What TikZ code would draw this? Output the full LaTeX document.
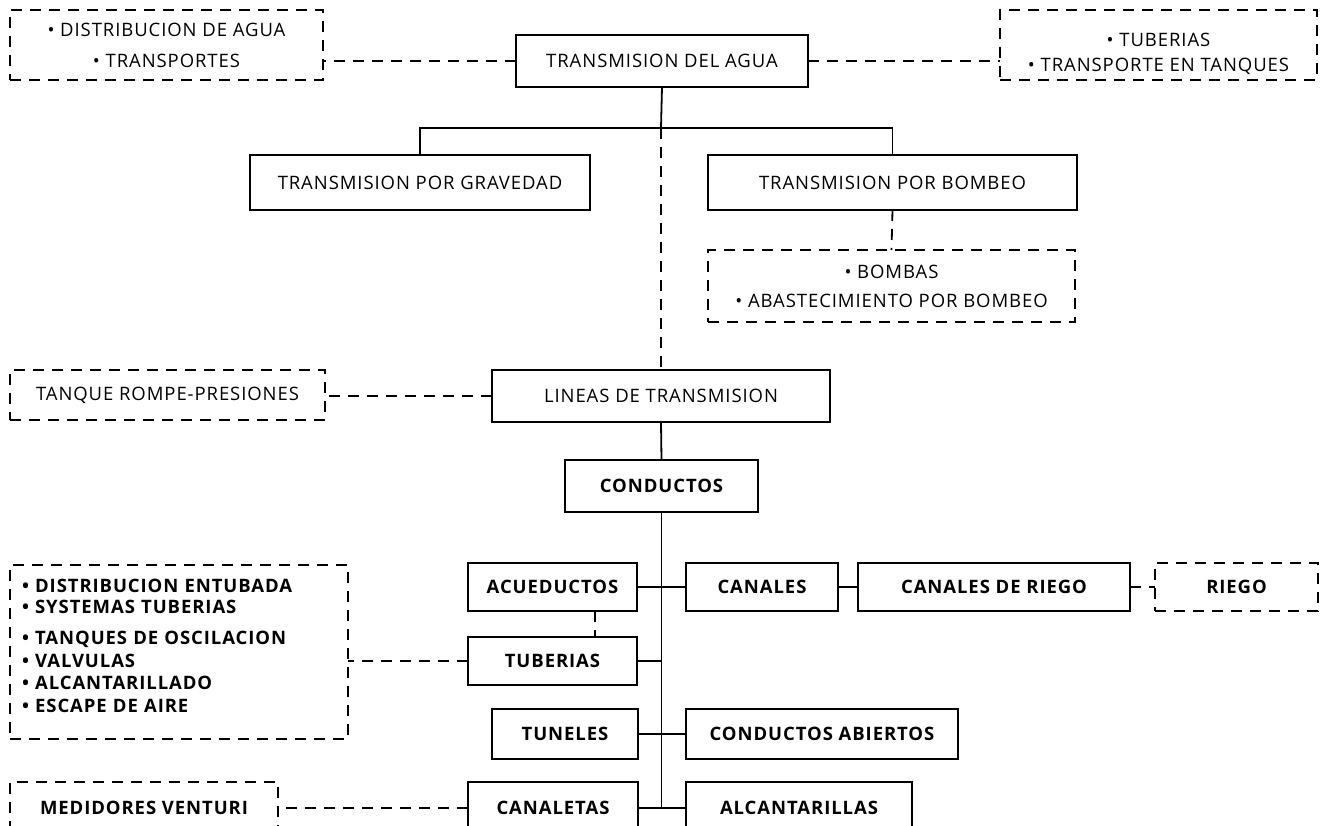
\documentclass[tikz,border=0pt]{standalone}
\usepackage{fontspec}
\setmainfont{Open Sans}[LetterSpace=5]
\usetikzlibrary{calc}
\begin{document}
\begin{tikzpicture}[x=1pt,y=-1pt,
  line width=1.8pt,
  box/.style={draw, inner sep=0pt, outer sep=0pt, font=\fontsize{18.5}{22}\selectfont},
  bbox/.style={box, font=\fontsize{18.5}{22}\selectfont\bfseries},
  dbox/.style={box, dash pattern=on 11pt off 8pt},
  dbbox/.style={bbox, dash pattern=on 11pt off 8pt},
  dsh/.style={dash pattern=on 11pt off 8pt}]
\clip (0,0) rectangle (1326,826);
\fill[white] (0,0) rectangle (1326,826);
% top row
\node[dbox, minimum width=313, minimum height=70, align=center] (tl) at (166.5,45)
  {• DISTRIBUCION DE AGUA\\[9pt]• TRANSPORTES};
\node[box, minimum width=292, minimum height=52] (tda) at (662,61) {TRANSMISION DEL AGUA};
\node[dbox, minimum width=317, minimum height=70, align=center] (tr) at (1158.5,45)
  {\mbox{}\\[9pt]• TUBERIAS\\[3pt]• TRANSPORTE EN TANQUES};
% second row
\node[box, minimum width=340, minimum height=55] (grav) at (420,182.5) {TRANSMISION POR GRAVEDAD};
\node[box, minimum width=369, minimum height=55] (bomb) at (892.5,182.5) {TRANSMISION POR BOMBEO};
\node[dbox, minimum width=367, minimum height=72, align=center] (bombas) at (891.5,286)
  {• BOMBAS\\[7pt]• ABASTECIMIENTO POR BOMBEO};
% lineas
\node[dbox, minimum width=315, minimum height=50] (tanque) at (167.5,395) {TANQUE ROMPE-PRESIONES};
\node[box, minimum width=338, minimum height=52] (lineas) at (661,396) {LINEAS DE TRANSMISION};
\node[bbox, minimum width=193, minimum height=52] (cond) at (661.5,486) {CONDUCTOS};
% lower
\node[dbbox, minimum width=338, minimum height=174, align=left, text width=314] (dist) at (179,652)
  {• DISTRIBUCION ENTUBADA\\[-1pt]• SYSTEMAS TUBERIAS\\[9pt]• TANQUES DE OSCILACION\\[1pt]• VALVULAS\\[0pt]• ALCANTARILLADO\\[1pt]• ESCAPE DE AIRE\\[-10pt]\mbox{}};
\node[bbox, minimum width=169, minimum height=48] (acu) at (552.5,587) {ACUEDUCTOS};
\node[bbox, minimum width=152, minimum height=48] (can) at (762,587) {CANALES};
\node[bbox, minimum width=272, minimum height=48] (cdr) at (994,587) {CANALES DE RIEGO};
\node[dbbox, minimum width=163, minimum height=48] (riego) at (1236.5,587) {RIEGO};
\node[bbox, minimum width=169, minimum height=48] (tub) at (552.5,661) {TUBERIAS};
\node[bbox, minimum width=146, minimum height=50] (tun) at (565,734) {TUNELES};
\node[bbox, minimum width=272, minimum height=50] (cab) at (822,734) {CONDUCTOS ABIERTOS};
\node[dbbox, minimum width=268, minimum height=52] (med) at (144,808) {MEDIDORES VENTURI};
\node[bbox, minimum width=170, minimum height=52] (canl) at (553,808) {CANALETAS};
\node[bbox, minimum width=226, minimum height=52] (alc) at (799,808) {ALCANTARILLAS};
% connectors
\coordinate (br) at (661,128);
\draw[dsh] (tda.west) -- (tda.west -| tl.east);
\draw[dsh] (tda.east) -- (tda.east -| tr.west);
\draw (tda.south) -- (br);
\draw (grav.north) -- (grav.north |- br) -- (bomb.north |- br) -- (bomb.north);
\draw[dsh] (br) -- (lineas.north);
\draw[dsh] (bomb.south) -- (bombas.north);
\draw[dsh] (lineas.west) -- (lineas.west -| tanque.east);
\draw (lineas.south) -- (cond.north);
\draw (cond.south) -- (cond.south |- canl.east);
\draw (acu.east) -- (can.west);
\draw (can.east) -- (cdr.west);
\draw[dsh] (cdr.east) -- (riego.west);
\draw (tub.east) -- (tub.east -| cond.south);
\draw[dsh] ($(acu.south east)!0.25!(acu.south west)$) -- ($(tub.north east)!0.25!(tub.north west)$);
\draw[dsh] (tub.west) -- (tub.west -| dist.east);
\draw (tun.east) -- (cab.west);
\draw (canl.east) -- (alc.west);
\draw[dsh] (canl.west) -- (canl.west -| med.east);
\end{tikzpicture}
\end{document}
